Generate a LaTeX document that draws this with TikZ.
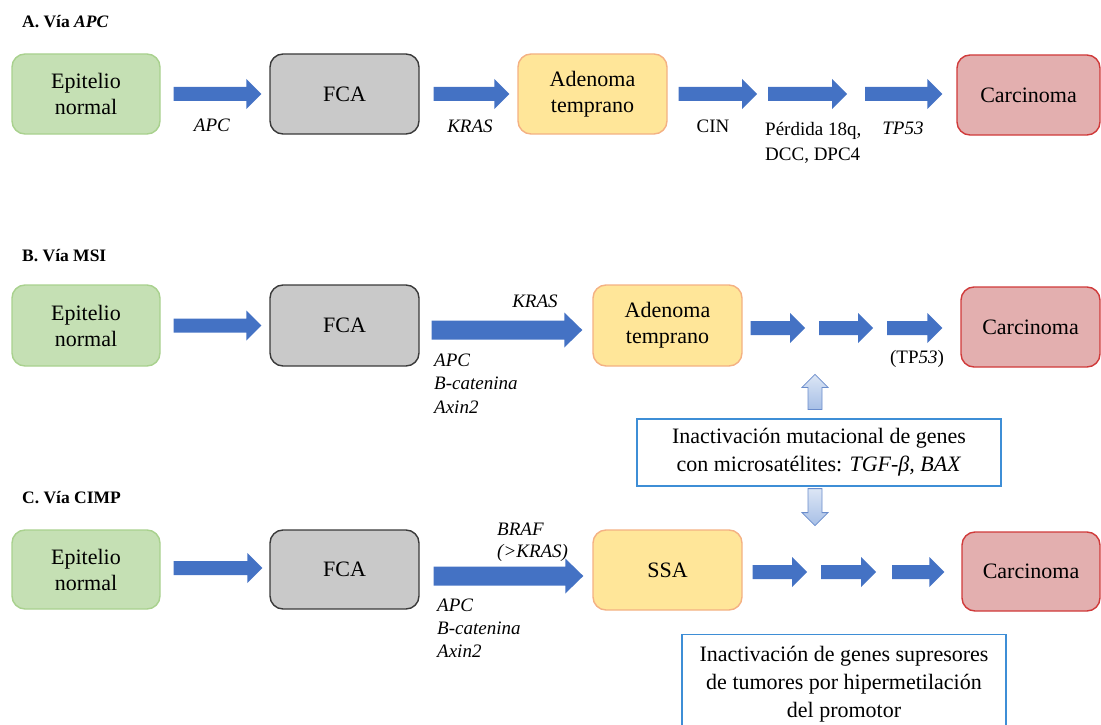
\documentclass[tikz,border=0pt]{standalone}
\usepackage{fontspec}
\setmainfont{Liberation Serif}
\usetikzlibrary{calc}
\definecolor{arrowblue}{HTML}{4472C4}
\definecolor{gfill}{HTML}{C5E0B4}
\definecolor{gdraw}{HTML}{A9D18E}
\definecolor{grfill}{HTML}{C9C9C9}
\definecolor{grdraw}{HTML}{3A3A3A}
\definecolor{yfill}{HTML}{FFE699}
\definecolor{ydraw}{HTML}{F4B183}
\definecolor{rfill}{HTML}{E3AFAF}
\definecolor{rdraw}{HTML}{D03A3A}
\definecolor{tdraw}{HTML}{3E8ED6}
\definecolor{vtop}{HTML}{DCE6F5}
\definecolor{vbot}{HTML}{A7BFE6}
\definecolor{vdraw}{HTML}{6A8CCB}
\begin{document}
\begin{tikzpicture}[x=1pt,y=-1pt,
  box/.style={rounded corners=13pt, line width=1.4pt, align=center, inner sep=2pt,
    minimum height=80pt, minimum width=148pt, font=\fontsize{22}{26}\selectfont},
  gbox/.style={box, fill=gfill, draw=gdraw},
  grbox/.style={box, fill=grfill, draw=grdraw},
  ybox/.style={box, fill=yfill, draw=ydraw},
  rbox/.style={box, fill=rfill, draw=rdraw},
  tbox/.style={draw=tdraw, line width=1.2pt, align=center, inner sep=4pt,
    font=\fontsize{22}{28}\selectfont},
  lab/.style={inner sep=0pt, font=\fontsize{19}{24}\selectfont},
  ttl/.style={inner sep=0pt, anchor=west, font=\fontsize{17.5}{20}\selectfont\bfseries},
  harrow/.style n args={3}{fill=arrowblue, to path={let \p1=(\tikztostart), \p2=(\tikztotarget) in
    (\x1,\y1-#1) -- (\x2-#3,\y1-#1) -- (\x2-#3,\y1-#2) -- (\x2,\y1) -- (\x2-#3,\y1+#2)
    -- (\x2-#3,\y1+#1) -- (\x1,\y1+#1) -- cycle}},
  sarr/.style={harrow={7pt}{15pt}{15pt}},
  barr/.style={harrow={9.5pt}{17.5pt}{18pt}},
  varrowstyle/.style={draw=vdraw, line width=0.8pt, top color=vtop, bottom color=vbot},
  uparr/.style={varrowstyle, to path={let \p1=(\tikztostart), \p2=(\tikztotarget) in
    (\x1-7pt,\y1) -- (\x1-7pt,\y2-13pt) -- (\x1-13pt,\y2-13pt) -- (\x1,\y2) -- (\x1+13pt,\y2-13pt)
    -- (\x1+7pt,\y2-13pt) -- (\x1+7pt,\y1) -- cycle}},
  dnarr/.style={varrowstyle, to path={let \p1=(\tikztostart), \p2=(\tikztotarget) in
    (\x1-7pt,\y1) -- (\x1-7pt,\y2+13pt) -- (\x1-13pt,\y2+13pt) -- (\x1,\y2) -- (\x1+13pt,\y2+13pt)
    -- (\x1+7pt,\y2+13pt) -- (\x1+7pt,\y1) -- cycle}},
]
\useasboundingbox (0,0) rectangle (1101,725);
\clip (0,0) rectangle (1101,725);

% ---------------- A ----------------
\node[ttl] (tA) at (22,22) {A. Vía \textit{APC}};
\node[gbox] (epiA) at (86,94) {Epitelio\\normal};
\node[grbox, minimum width=149pt] (fcaA) at (344.5,94) {FCA};
\node[ybox, minimum width=149pt] (adeA) at (592.5,94) {Adenoma\\temprano};
\node[rbox, minimum width=143pt] (carA) at (1028.5,95) {Carcinoma};
\coordinate (a3e) at (757,94);
\coordinate (a4s) at (768,94);
\coordinate (a4e) at (847,94);
\coordinate (a5s) at (865,94);
\path[sarr] ([xshift=13pt]epiA.east) to ([xshift=-8pt]fcaA.west);
\path[sarr] ([xshift=14pt]fcaA.east) to ([xshift=-8pt]adeA.west);
\path[sarr] ([xshift=11pt]adeA.east) to (a3e);
\path[sarr] (a4s) to (a4e);
\path[sarr] (a5s) to ([xshift=-14pt]carA.west);
\node[lab] (lA1) at (212,125) {\textit{APC}};
\node[lab] (lA2) at (470,126) {\textit{KRAS}};
\node[lab] (lA3) at (713,126) {CIN};
\node[lab, align=left, anchor=west, font=\fontsize{19}{25}\selectfont] (lA4) at (765,142.5) {Pérdida 18q,\\DCC, DPC4};
\node[lab] (lA5) at (903,128) {\textit{TP53}};

% ---------------- B ----------------
\node[ttl] (tB) at (22,256) {B. Vía MSI};
\node[gbox, minimum height=81pt] (epiB) at (86,325.5) {Epitelio\\normal};
\node[grbox, minimum width=149pt, minimum height=81pt] (fcaB) at (344.5,325.5) {FCA};
\node[ybox, minimum width=149pt, minimum height=81pt] (adeB) at (667.5,325.5) {Adenoma\\temprano};
\node[rbox, minimum width=139pt] (carB) at (1030.5,327) {Carcinoma};
\coordinate (b3e) at (805,328);
\coordinate (b4s) at (819,328);
\coordinate (b4e) at (873,328);
\coordinate (b5s) at (887,328);
\path[sarr] ([xshift=13pt]epiB.east) to ([xshift=-8pt]fcaB.west);
\path[barr] ([xshift=12pt,yshift=-4.5pt]fcaB.east) to ([xshift=-10pt,yshift=-4.5pt]adeB.west);
\path[sarr] ([xshift=8pt,yshift=-2.5pt]adeB.east) to (b3e);
\path[sarr] (b4s) to (b4e);
\path[sarr] (b5s) to ([xshift=-18pt]carB.west);
\node[lab] (lB1) at (535,301) {\textit{KRAS}};
\node[lab, align=left, anchor=west, font=\fontsize{19}{23.5}\selectfont] (lB2) at (434,383.5) {\textit{APC}\\\textit{B-catenina}\\\textit{Axin2}};
\node[lab] (lB3) at (917,359) {(TP\textit{53})};
\node[tbox, minimum width=364pt, minimum height=67pt] (msi) at (819,452.5) {Inactivación mutacional de genes\\con microsatélites: \textit{TGF-β, BAX}};
\path[uparr] ([xshift=-4pt,yshift=9pt]msi.north) to ([xshift=-4pt,yshift=44pt]msi.north);
\path[dnarr] ([xshift=-4pt,yshift=-2pt]msi.south) to ([xshift=-4pt,yshift=-39pt]msi.south);

% ---------------- C ----------------
\node[ttl] (tC) at (22,498) {C. Vía CIMP};
\node[gbox, minimum height=79pt] (epiC) at (86,569.5) {Epitelio\\normal};
\node[grbox, minimum width=149pt, minimum height=79pt] (fcaC) at (344.5,569.5) {FCA};
\node[ybox, minimum width=149pt] (ssa) at (667.5,570) {SSA};
\node[rbox, minimum width=138pt, minimum height=79pt] (carC) at (1031,571.5) {Carcinoma};
\coordinate (c3e) at (807,572);
\coordinate (c4s) at (821,572);
\coordinate (c4e) at (876,572);
\coordinate (c5s) at (892,572);
\path[sarr] ([xshift=13pt,yshift=1.5pt]epiC.east) to ([xshift=-7pt,yshift=1.5pt]fcaC.west);
\path[barr] ([xshift=14pt,yshift=-6.5pt]fcaC.east) to ([xshift=-9pt,yshift=-6pt]ssa.west);
\path[sarr] ([xshift=10pt,yshift=-2pt]ssa.east) to (c3e);
\path[sarr] (c4s) to (c4e);
\path[sarr] (c5s) to ([xshift=-17pt]carC.west);
\node[lab, align=left, anchor=west, font=\fontsize{19}{22.5}\selectfont] (lC1) at (497,542) {\textit{BRAF}\\\textit{(>KRAS)}};
\node[lab, align=left, anchor=west, font=\fontsize{19}{23}\selectfont] (lC2) at (437,628) {\textit{APC}\\\textit{B-catenina}\\\textit{Axin2}};
\node[tbox, anchor=north, minimum width=324pt, minimum height=100pt] (cimp) at (844,634) {Inactivación de genes supresores\\de tumores por hipermetilación\\del promotor};
\end{tikzpicture}
\end{document}
